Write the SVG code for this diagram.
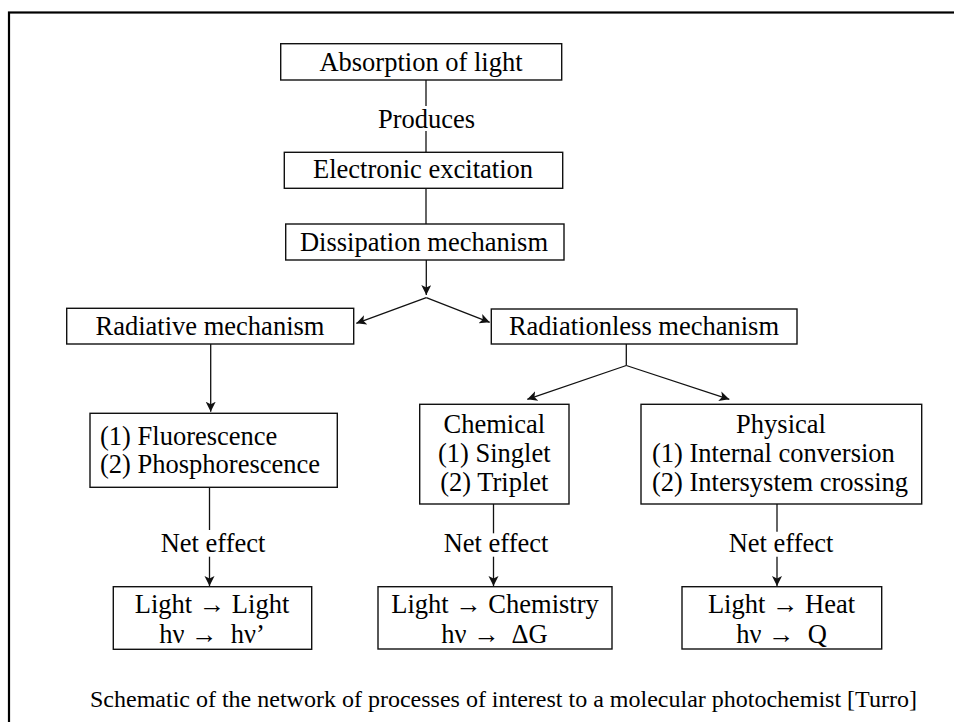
<svg xmlns="http://www.w3.org/2000/svg" width="954" height="722" viewBox="0 0 954 722">
<style>
text{font-family:"Liberation Serif","Times New Roman",serif;font-size:26.5px;fill:#000}
.c{text-anchor:middle}
.box{fill:#fff;stroke:#111;stroke-width:1.4}
.ln{fill:none;stroke:#111;stroke-width:1.3}
.cap{font-size:24px}
</style>
<defs>
<marker id="ah" markerUnits="userSpaceOnUse" markerWidth="12" markerHeight="12" refX="10" refY="5" orient="auto">
<path d="M0,0 L10,5 L0,10 L2.5,5 Z" fill="#111"/>
</marker>
</defs>
<rect x="0" y="0" width="954" height="722" fill="#fff"/>
<rect x="9" y="12.5" width="1000" height="1000" fill="none" stroke="#000" stroke-width="2.2"/>

<g id="connectors">
<line class="ln" x1="426" y1="80" x2="426" y2="106"/>
<line class="ln" x1="426" y1="131" x2="426" y2="152.3"/>
<line class="ln" x1="426" y1="188.3" x2="426" y2="224"/>
<line class="ln" x1="426.3" y1="260" x2="426.3" y2="295" marker-end="url(#ah)"/>
<line class="ln" x1="426.3" y1="297.7" x2="356.3" y2="323.3" marker-end="url(#ah)"/>
<line class="ln" x1="426.3" y1="297.7" x2="489.7" y2="322.3" marker-end="url(#ah)"/>
<line class="ln" x1="210.7" y1="344" x2="210.7" y2="411.7" marker-end="url(#ah)"/>
<polyline class="ln" points="626.3,344 626.3,365.5"/>
<line class="ln" x1="626.3" y1="365.5" x2="527.3" y2="399.3" marker-end="url(#ah)"/>
<line class="ln" x1="626.3" y1="365.5" x2="729.3" y2="399.3" marker-end="url(#ah)"/>
<line class="ln" x1="209.5" y1="487.3" x2="209.5" y2="530"/>
<line class="ln" x1="209.5" y1="556.7" x2="209.5" y2="586" marker-end="url(#ah)"/>
<line class="ln" x1="493.5" y1="504" x2="493.5" y2="533.3"/>
<line class="ln" x1="493.5" y1="556.7" x2="493.5" y2="586" marker-end="url(#ah)"/>
<line class="ln" x1="777" y1="504" x2="777" y2="531.7"/>
<line class="ln" x1="777" y1="556.7" x2="777" y2="586" marker-end="url(#ah)"/>
<text class="c" x="426.5" y="127.7">Produces</text>
<text class="c" x="213" y="551.7">Net effect</text>
<text class="c" x="496" y="551.7">Net effect</text>
<text class="c" x="781" y="551.7">Net effect</text>
</g>

<g id="absorption">
<rect class="box" x="280.7" y="43.7" width="281" height="36.3"/>
<text class="c" x="421" y="70.7">Absorption of light</text>
</g>
<g id="excitation">
<rect class="box" x="284.3" y="152.3" width="278.4" height="36"/>
<text class="c" x="423" y="178.3">Electronic excitation</text>
</g>
<g id="dissipation">
<rect class="box" x="285.7" y="224" width="278.3" height="36"/>
<text class="c" x="424" y="250.5">Dissipation mechanism</text>
</g>
<g id="radiative">
<rect class="box" x="66.7" y="308.3" width="287" height="35.7"/>
<text class="c" x="210" y="335">Radiative mechanism</text>
</g>
<g id="radiationless">
<rect class="box" x="491.3" y="309" width="305.7" height="35"/>
<text class="c" x="644" y="335">Radiationless mechanism</text>
</g>
<g id="fluorescence">
<rect class="box" x="90" y="413.3" width="247.3" height="74"/>
<text x="100" y="445">(1) Fluorescence</text>
<text x="100" y="473.3">(2) Phosphorescence</text>
</g>
<g id="chemical">
<rect class="box" x="419.7" y="404.3" width="149.3" height="99.7"/>
<text class="c" x="494.3" y="433.3">Chemical</text>
<text class="c" x="494.3" y="461.7">(1) Singlet</text>
<text class="c" x="494.3" y="491">(2) Triplet</text>
</g>
<g id="physical">
<rect class="box" x="641" y="404.3" width="280.7" height="99.7"/>
<text class="c" x="781" y="433.3">Physical</text>
<text x="652" y="461.7">(1) Internal conversion</text>
<text x="652" y="491">(2) Intersystem crossing</text>
</g>
<g id="light-light">
<rect class="box" x="113.3" y="586.7" width="198.4" height="62.6"/>
<text class="c" x="212" y="613.3">Light → Light</text>
<text class="c" x="212" y="643">hν →&#160; hν’</text>
</g>
<g id="light-chemistry">
<rect class="box" x="378" y="586.7" width="234" height="62.3"/>
<text class="c" x="495" y="613.3">Light → Chemistry</text>
<text class="c" x="494.5" y="643">hν →&#160; ΔG</text>
</g>
<g id="light-heat">
<rect class="box" x="682" y="586.7" width="199.7" height="62.3"/>
<text class="c" x="781.5" y="613.3">Light → Heat</text>
<text class="c" x="781.5" y="643">hν →&#160; Q</text>
</g>
<g id="caption">
<text class="cap" x="90" y="706.7">Schematic of the network of processes of interest to a molecular photochemist [Turro]</text>
</g>
</svg>
